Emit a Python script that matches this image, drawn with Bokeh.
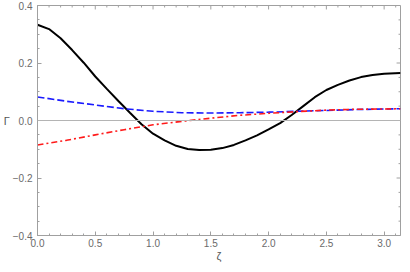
import numpy as np
from bokeh.plotting import figure
from bokeh.models import FixedTicker, Span, Range1d, PrintfTickFormatter
from bokeh.embed import file_html
from bokeh.resources import INLINE

# --- data ---
zeta_black = [0.0, 0.1, 0.2, 0.3, 0.4, 0.5, 0.6, 0.7, 0.8, 0.9, 1.0, 1.1, 1.2, 1.3,
              1.4, 1.5, 1.6, 1.7, 1.8, 1.9, 2.0, 2.1, 2.2, 2.3, 2.4, 2.5, 2.6, 2.7,
              2.8, 2.9, 3.0, 3.14159]
gamma_black = [0.333, 0.318, 0.286, 0.245, 0.201, 0.153, 0.110, 0.068, 0.027, -0.013,
               -0.046, -0.069, -0.088, -0.099, -0.103, -0.102, -0.096, -0.085, -0.069,
               -0.052, -0.031, -0.009, 0.019, 0.050, 0.081, 0.106, 0.124, 0.139,
               0.151, 0.158, 0.163, 0.165]

zeta_blue = [0.0, 0.25, 0.5, 0.75, 1.0, 1.25, 1.5, 1.75, 2.0, 2.25, 2.5, 2.75, 3.0, 3.14159]
gamma_blue = [0.082, 0.067, 0.054, 0.041, 0.032, 0.027, 0.026, 0.027, 0.029, 0.032,
              0.035, 0.038, 0.040, 0.041]

zeta_red = [0.0, 0.25, 0.5, 0.75, 1.0, 1.25, 1.5, 1.75, 2.0, 2.25, 2.5, 2.75, 3.0, 3.14159]
gamma_red = [-0.085, -0.069, -0.050, -0.032, -0.015, -0.003, 0.008, 0.018, 0.025, 0.031,
             0.036, 0.039, 0.040, 0.041]

x_ticks = [0.0, 0.5, 1.0, 1.5, 2.0, 2.5, 3.0]
y_ticks = [-0.4, -0.2, 0.0, 0.2, 0.4]
y_tick_labels = {-0.4: "\u22120.4", -0.2: "\u22120.2", 0: "0.0", 0.2: "0.2", 0.4: "0.4"}
x_title = "\u03b6"
y_title = "\u0393"

FRAME = "#a0a0a0"
LABEL = "#6a6a6a"
FONT = "Liberation Sans"

W, H = 402, 264
BL, BR, BT, BB = 31, 2, 5, 28
X0, X1 = 0.0, np.pi
Y0, Y1 = -0.4, 0.4

p = figure(width=W, height=H, output_backend="svg", toolbar_location=None,
           x_range=Range1d(X0, X1), y_range=Range1d(Y0, Y1),
           min_border_left=BL, min_border_right=BR, min_border_top=BT, min_border_bottom=BB)
p.grid.visible = False
p.background_fill_color = "white"
p.outline_line_color = FRAME

x_minor = [round(0.1 * i, 2) for i in range(0, 32)]
y_minor = [round(-0.4 + 0.05 * i, 2) for i in range(0, 17)]
xt = FixedTicker(ticks=x_ticks, minor_ticks=x_minor)
yt = FixedTicker(ticks=y_ticks, minor_ticks=y_minor)

for ax in (p.xaxis[0], p.yaxis[0]):
    ax.axis_line_color = FRAME
    ax.major_tick_line_color = FRAME
    ax.minor_tick_line_color = FRAME
    ax.major_tick_in = 4
    ax.major_tick_out = 0
    ax.minor_tick_in = 2
    ax.minor_tick_out = 0
    ax.major_label_text_font = FONT
    ax.major_label_text_font_size = "10px"
    ax.major_label_text_color = LABEL
    ax.axis_label_text_font = FONT
    ax.axis_label_text_font_style = "normal"
    ax.axis_label_text_font_size = "11px"
    ax.axis_label_text_color = "#555555"

p.xaxis.ticker = xt
p.yaxis.ticker = yt
p.xaxis.formatter = PrintfTickFormatter(format="%.1f")
p.yaxis.major_label_overrides = y_tick_labels
p.xaxis.axis_label = x_title
p.yaxis.axis_label = y_title
p.yaxis.axis_label_orientation = "horizontal"
p.xaxis.major_label_standoff = 3
p.xaxis.axis_label_standoff = 0
p.yaxis.major_label_standoff = 5
p.yaxis.axis_label_standoff = 0

fw = W - BL - BR
fh = H - BT - BB
dx = (X1 - X0) / fw
dy = (Y1 - Y0) / fh

# mirrored inward ticks on the top and right frame edges
tx = [(t, 4) for t in x_ticks] + [(t, 2) for t in x_minor if t not in x_ticks]
ty = [(t, 4) for t in y_ticks] + [(t, 2) for t in y_minor if t not in y_ticks]
p.segment(x0=[t for t, _ in tx], x1=[t for t, _ in tx],
          y0=[Y1] * len(tx), y1=[Y1 - L * dy for _, L in tx],
          line_color=FRAME, line_width=1)
p.segment(x0=[X1] * len(ty), x1=[X1 - L * dx for _, L in ty],
          y0=[t for t, _ in ty], y1=[t for t, _ in ty],
          line_color=FRAME, line_width=1)

p.add_layout(Span(location=0, dimension="width", line_color="#b4b4b4", line_width=1))

p.line(zeta_black, gamma_black, line_color="black", line_width=2)
p.line(zeta_blue, gamma_blue, line_color="#1a1aff", line_width=1.6, line_dash="7 3")
p.line(zeta_red, gamma_red, line_color="#ff1a1a", line_width=1.6, line_dash="6 3 2 3")

open("out.html", "w").write(file_html(p, INLINE))
